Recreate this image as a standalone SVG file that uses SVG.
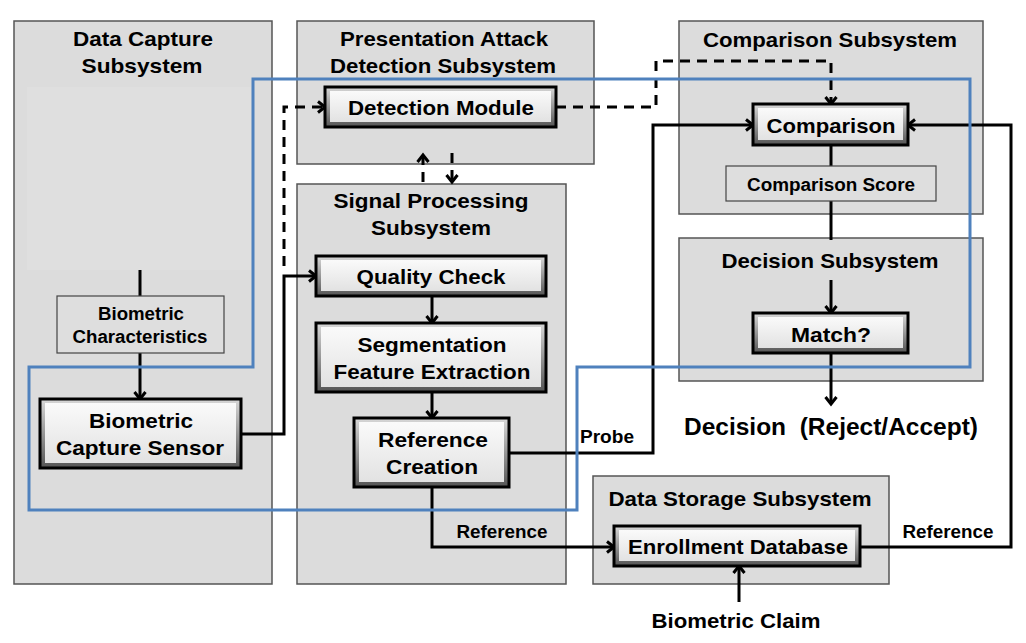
<svg xmlns="http://www.w3.org/2000/svg" width="1026" height="643" viewBox="0 0 1026 643">
<style>
text{font-family:"Liberation Sans",Arial,sans-serif;font-weight:bold;fill:#000;text-anchor:middle}
.t{font-size:21px}
.n{font-size:21px}
.s{font-size:18px}
.sub{fill:#dcdcdc;stroke:#555;stroke-width:1.5}
.lbl{fill:#dedede;stroke:#444;stroke-width:1.2}
.outer{fill:url(#bev);stroke:#000;stroke-width:3}
.face{fill:url(#face)}
.c{fill:none;stroke:#000;stroke-width:3}
.d{fill:none;stroke:#000;stroke-width:3;stroke-dasharray:10,7}
</style>
<defs>
<linearGradient id="bev" x1="0" y1="0" x2="0" y2="1">
<stop offset="0" stop-color="#d8d8d8"/><stop offset="1" stop-color="#555"/>
</linearGradient>
<linearGradient id="face" x1="0" y1="0" x2="0" y2="1">
<stop offset="0" stop-color="#fafafa"/><stop offset="1" stop-color="#e2e2e2"/>
</linearGradient>
<marker id="arr" markerUnits="userSpaceOnUse" markerWidth="14" markerHeight="14" refX="11" refY="7" orient="auto">
<path d="M4,1.5 L11,7 L4,12.5" fill="none" stroke="#000" stroke-width="3"/>
</marker>
</defs>
<rect width="1026" height="643" fill="#fff"/>

<g id="data-capture-subsystem">
<rect class="sub" x="14" y="21" width="258" height="563"/>
<rect x="27" y="87" width="224" height="183" fill="#dfdfdf"/>
<text class="t" x="143" y="46" textLength="140" lengthAdjust="spacingAndGlyphs">Data Capture</text>
<text class="t" x="142" y="73" textLength="121" lengthAdjust="spacingAndGlyphs">Subsystem</text>
</g>
<g id="pad-subsystem">
<rect class="sub" x="297" y="21" width="297" height="143"/>
<text class="t" x="444" y="46" textLength="208" lengthAdjust="spacingAndGlyphs">Presentation Attack</text>
<text class="t" x="443" y="73" textLength="226" lengthAdjust="spacingAndGlyphs">Detection Subsystem</text>
</g>
<g id="signal-processing-subsystem">
<rect class="sub" x="297" y="184" width="269" height="400"/>
<text class="t" x="431" y="208" textLength="195" lengthAdjust="spacingAndGlyphs">Signal Processing</text>
<text class="t" x="431" y="235" textLength="120" lengthAdjust="spacingAndGlyphs">Subsystem</text>
</g>
<g id="comparison-subsystem">
<rect class="sub" x="679" y="21" width="304" height="193"/>
<text class="t" x="830" y="47" textLength="254" lengthAdjust="spacingAndGlyphs">Comparison Subsystem</text>
</g>
<g id="decision-subsystem">
<rect class="sub" x="679" y="238" width="304" height="143"/>
<text class="t" x="830" y="268" textLength="217" lengthAdjust="spacingAndGlyphs">Decision Subsystem</text>
</g>
<g id="data-storage-subsystem">
<rect class="sub" x="593" y="476" width="296" height="108"/>
<text class="t" x="740" y="506" textLength="263" lengthAdjust="spacingAndGlyphs">Data Storage Subsystem</text>
</g>

<g id="connectors">
<path class="c" d="M140,270 V296"/>
<path class="c" d="M140,353 V399" marker-end="url(#arr)"/>
<path class="c" d="M241,434 H284 V276 H316" marker-end="url(#arr)"/>
<path class="d" d="M284,266 V107 H325" marker-end="url(#arr)"/>
<path class="d" d="M423,182 V155" marker-end="url(#arr)"/>
<path class="d" d="M452,153 V182" marker-end="url(#arr)"/>
<path class="c" d="M432,296 V323" marker-end="url(#arr)"/>
<path class="c" d="M432,392 V418" marker-end="url(#arr)"/>
<path class="c" d="M432,487 V547 H614" marker-end="url(#arr)"/>
<path class="c" d="M509,453 H653 V125 H753" marker-end="url(#arr)"/>
<path class="d" d="M556,107 H656 V61 H831 V104" marker-end="url(#arr)"/>
<path class="c" d="M860,547 H1011 V125 H908" marker-end="url(#arr)"/>
<path class="c" d="M831,145 V166"/>
<path class="c" d="M831,201 V240"/>
<path class="c" d="M831,280 V313" marker-end="url(#arr)"/>
<path class="c" d="M831,353 V404" marker-end="url(#arr)"/>
<path class="c" d="M739,602 V566" marker-end="url(#arr)"/>
<text class="s" x="502" y="538" textLength="91" lengthAdjust="spacingAndGlyphs">Reference</text>
<text class="s" x="607" y="443" textLength="54" lengthAdjust="spacingAndGlyphs">Probe</text>
<text class="s" x="948" y="538" textLength="91" lengthAdjust="spacingAndGlyphs">Reference</text>
</g>

<g id="biometric-characteristics">
<rect class="lbl" x="57" y="296" width="167" height="57"/>
<text class="s" x="141" y="320" textLength="86" lengthAdjust="spacingAndGlyphs">Biometric</text>
<text class="s" x="140" y="343" textLength="135" lengthAdjust="spacingAndGlyphs">Characteristics</text>
</g>
<g id="biometric-capture-sensor">
<rect class="outer" x="40" y="399" width="201" height="69"/>
<rect class="face" x="45" y="403" width="191" height="60"/>
<text class="n" x="141" y="428" textLength="104" lengthAdjust="spacingAndGlyphs">Biometric</text>
<text class="n" x="140" y="455" textLength="168" lengthAdjust="spacingAndGlyphs">Capture Sensor</text>
</g>
<g id="detection-module">
<rect class="outer" x="325" y="87" width="231" height="40"/>
<rect class="face" x="330" y="91" width="221" height="31"/>
<text class="n" x="441" y="115" textLength="186" lengthAdjust="spacingAndGlyphs">Detection Module</text>
</g>
<g id="quality-check">
<rect class="outer" x="316" y="256" width="230" height="40"/>
<rect class="face" x="321" y="260" width="220" height="31"/>
<text class="n" x="431" y="284" textLength="149" lengthAdjust="spacingAndGlyphs">Quality Check</text>
</g>
<g id="segmentation-feature-extraction">
<rect class="outer" x="316" y="323" width="230" height="69"/>
<rect class="face" x="321" y="327" width="220" height="60"/>
<text class="n" x="432" y="352" textLength="149" lengthAdjust="spacingAndGlyphs">Segmentation</text>
<text class="n" x="432" y="379" textLength="197" lengthAdjust="spacingAndGlyphs">Feature Extraction</text>
</g>
<g id="reference-creation">
<rect class="outer" x="354" y="418" width="155" height="69"/>
<rect class="face" x="359" y="422" width="145" height="60"/>
<text class="n" x="433" y="447" textLength="110" lengthAdjust="spacingAndGlyphs">Reference</text>
<text class="n" x="432" y="474" textLength="92" lengthAdjust="spacingAndGlyphs">Creation</text>
</g>
<g id="comparison">
<rect class="outer" x="753" y="104" width="155" height="41"/>
<rect class="face" x="758" y="108" width="145" height="32"/>
<text class="n" x="831" y="133" textLength="129" lengthAdjust="spacingAndGlyphs">Comparison</text>
</g>
<g id="comparison-score">
<rect class="lbl" x="726" y="166" width="210" height="35"/>
<text class="s" x="831" y="191" textLength="168" lengthAdjust="spacingAndGlyphs">Comparison Score</text>
</g>
<g id="match">
<rect class="outer" x="753" y="313" width="155" height="40"/>
<rect class="face" x="758" y="317" width="145" height="31"/>
<text class="n" x="831" y="342" textLength="80" lengthAdjust="spacingAndGlyphs">Match?</text>
</g>
<g id="enrollment-database">
<rect class="outer" x="614" y="526" width="246" height="40"/>
<rect class="face" x="619" y="530" width="236" height="31"/>
<text class="n" x="738" y="554" textLength="220" lengthAdjust="spacingAndGlyphs">Enrollment Database</text>
</g>
<g id="decision-output">
<text x="831" y="435" font-size="23" textLength="294" lengthAdjust="spacingAndGlyphs" xml:space="preserve">Decision  (Reject/Accept)</text>
</g>
<g id="biometric-claim">
<text x="736" y="628" font-size="21" textLength="169" lengthAdjust="spacingAndGlyphs">Biometric Claim</text>
</g>

<g id="toe-boundary">
<path d="M253,79 H970 V367 H577 V510 H29 V367 H253 Z" fill="none" stroke="#4f81bd" stroke-width="3"/>
</g>
</svg>
